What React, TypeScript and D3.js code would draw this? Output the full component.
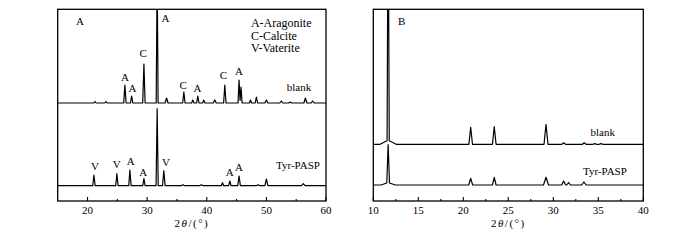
import React from 'react';
import * as d3 from 'd3';

// ---------- data ----------
// Panel A: 2θ ticks
const aMajorTicks = [20, 30, 40, 50, 60];
const aMinorTicks = [25, 35, 45, 55];
// Panel B: 2θ ticks
const bMajorTicks = [10, 15, 20, 25, 30, 35, 40];
const bMinorTicks = [12.5, 17.5, 22.5, 27.5, 32.5, 37.5];

// peaks: [2θ, intensity (a.u.), half base width (°)]
const aBlankPeaks: [number, number, number][] = [
  [21.25, 1.5, 0.2], [23.1, 1.5, 0.2], [26.27, 18, 0.2], [27.4, 7, 0.2],
  [29.46, 39, 0.2], [31.68, 130, 0.16], [33.26, 5, 0.25], [36.16, 11, 0.2],
  [37.66, 3, 0.2], [38.5, 7, 0.2], [39.5, 3, 0.2], [41.35, 3, 0.25],
  [43.03, 18, 0.2], [45.42, 23, 0.18], [45.75, 16, 0.18], [47.33, 3, 0.2],
  [48.33, 6, 0.2], [50.0, 3, 0.25], [52.5, 2, 0.25], [54.0, 1, 0.25],
  [56.54, 5, 0.25], [57.76, 2, 0.25],
];
const aTyrPeaks: [number, number, number][] = [
  [21.08, 10.7, 0.2], [24.93, 12, 0.2], [27.11, 15.7, 0.2], [29.46, 7, 0.2],
  [31.68, 77, 0.18], [32.8, 15, 0.22], [36.0, 1, 0.3], [39.1, 1, 0.3],
  [42.64, 3, 0.2], [43.87, 4.7, 0.2], [45.42, 9.7, 0.22], [48.6, 1, 0.3],
  [50.0, 6.7, 0.25], [56.2, 2, 0.3],
];
const aBlankOffset = 98;
const aTyrOffset = 15.3;

const bBlankPeaks: [number, number, number][] = [
  [11.65, 260, 0.12], [11.65, 4, 0.9], [20.82, 17, 0.2], [23.44, 17.6, 0.2],
  [29.19, 20, 0.22], [31.15, 1.5, 0.2], [33.44, 1.5, 0.2], [34.6, 0.7, 0.2],
  [35.3, 0.7, 0.2],
];
const bTyrPeaks: [number, number, number][] = [
  [11.65, 38, 0.15], [11.65, 2.5, 0.8], [20.82, 6.7, 0.22], [23.44, 7.7, 0.2],
  [29.19, 7.7, 0.28], [31.15, 4, 0.22], [31.7, 2.5, 0.2], [33.4, 3, 0.25],
];
const bBlankOffset = 56.7;
const bTyrOffset = 16;

// phase labels: [text, 2θ, intensity]
const aBlankLabels: [string, number, number][] = [
  ['A', 26.27, 124.3], ['A', 27.56, 113.3], ['C', 29.34, 147.7], ['A', 33.09, 183.3],
  ['C', 36.04, 116.3], ['A', 38.45, 112.7], ['C', 42.8, 126], ['A', 45.42, 130],
];
const aTyrLabels: [string, number, number][] = [
  ['V', 21.25, 35], ['V', 24.88, 36.7], ['A', 27.23, 40.3], ['A', 29.34, 29.3],
  ['V', 33.14, 39.3], ['A', 43.86, 29.3], ['A', 45.42, 33.7],
];
const legendLines = ['A-Aragonite', 'C-Calcite', 'V-Vaterite'];
const sampleNames = ['blank', 'Tyr-PASP'];

// ---------- helpers ----------
function profile(peaks: [number, number, number][], offset: number, lo: number, hi: number) {
  const bps = new Set<number>([lo, hi]);
  peaks.forEach(([c, , w]) => { bps.add(c - w); bps.add(c); bps.add(c + w); });
  const xs = Array.from(bps).filter(x => x >= lo && x <= hi).sort((a, b) => a - b);
  return xs.map(x => {
    let y = offset;
    peaks.forEach(([c, h, w]) => {
      const d = Math.abs(x - c);
      if (d < w) y += h * (1 - d / w);
    });
    return [x, y] as [number, number];
  });
}

const FONT = '"Liberation Serif", "Times New Roman", serif';

type PanelProps = {
  id: string;
  left: number; right: number; top: number; bottom: number;
  domain: [number, number];
  major: number[]; minor: number[];
  series: { peaks: [number, number, number][]; offset: number }[];
  children: (x: d3.ScaleLinear<number, number>, y: d3.ScaleLinear<number, number>) => React.ReactNode;
};

function Panel({ id, left, right, top, bottom, domain, major, minor, series, children }: PanelProps) {
  const x = d3.scaleLinear().domain(domain).range([left, right]);
  const y = d3.scaleLinear().domain([0, bottom - top]).range([bottom, top]);
  const line = d3.line<[number, number]>().x(d => x(d[0])).y(d => y(d[1]));
  return (
    <g>
      <defs>
        <clipPath id={id}>
          <rect x={left} y={top} width={right - left} height={bottom - top} />
        </clipPath>
      </defs>
      <g clipPath={`url(#${id})`}>
        {series.map((s, i) => (
          <path key={i} d={line(profile(s.peaks, s.offset, domain[0], domain[1])) || ''}
            fill="none" stroke="#000" strokeWidth={1.2} strokeLinejoin="round" />
        ))}
      </g>
      <rect x={left} y={top} width={right - left} height={bottom - top} fill="none" stroke="#000" strokeWidth={1.3} />
      {major.map(t => (
        <g key={'M' + t}>
          <line x1={x(t)} x2={x(t)} y1={bottom} y2={bottom - 4} stroke="#000" strokeWidth={1.1} />
          <text x={x(t)} y={bottom + 9} textAnchor="middle" dominantBaseline="central"
            fontFamily={FONT} fontSize={11}>{t}</text>
        </g>
      ))}
      {minor.map(t => (
        <line key={'m' + t} x1={x(t)} x2={x(t)} y1={bottom} y2={bottom - 2} stroke="#000" strokeWidth={1.1} />
      ))}
      <text x={(left + right) / 2} y={bottom + 22} textAnchor="middle" dominantBaseline="central"
        fontFamily={FONT} fontSize={11} letterSpacing={1.5}>
        2<tspan fontStyle="italic">θ</tspan>/(°)
      </text>
      {children(x, y)}
    </g>
  );
}

export default function App() {
  const txt = (key: string, xx: number, yy: number, s: string, size = 11, anchor = 'middle') => (
    <text key={key} x={xx} y={yy} textAnchor={anchor} dominantBaseline="central"
      fontFamily={FONT} fontSize={size}>{s}</text>
  );
  return (
    <svg width={700} height={240} style={{ position: 'absolute', left: 0, top: 0, background: '#fff' }}>
      <rect width={700} height={240} fill="#fff" />
      <Panel id="clipA" left={57.7} right={326} top={9.3} bottom={201} domain={[15, 60]}
        major={aMajorTicks} minor={aMinorTicks}
        series={[{ peaks: aBlankPeaks, offset: aBlankOffset }, { peaks: aTyrPeaks, offset: aTyrOffset }]}>
        {(x, y) => (
          <g>
            {txt('pa', x(18.74), y(180.3), 'A')}
            {aBlankLabels.map(([s, a, b], i) => txt('bl' + i, x(a), y(b), s))}
            {aTyrLabels.map(([s, a, b], i) => txt('tl' + i, x(a), y(b), s))}
            {legendLines.map((s, i) => txt('lg' + i, x(47.4), y(177.7 - i * 12.5), s, 12, 'start'))}
            {txt('sn0', x(55.47), y(113.7), sampleNames[0])}
            {txt('sn1', x(55.3), y(36), sampleNames[1])}
          </g>
        )}
      </Panel>
      <Panel id="clipB" left={373.3} right={643.3} top={9.3} bottom={201} domain={[10, 40]}
        major={bMajorTicks} minor={bMinorTicks}
        series={[{ peaks: bBlankPeaks, offset: bBlankOffset }, { peaks: bTyrPeaks, offset: bTyrOffset }]}>
        {(x, y) => (
          <g>
            {txt('pb', x(13.16), y(180.3), 'B')}
            {txt('sb0', x(35.49), y(68.7), sampleNames[0])}
            {txt('sb1', x(35.74), y(30.3), sampleNames[1])}
          </g>
        )}
      </Panel>
    </svg>
  );
}
